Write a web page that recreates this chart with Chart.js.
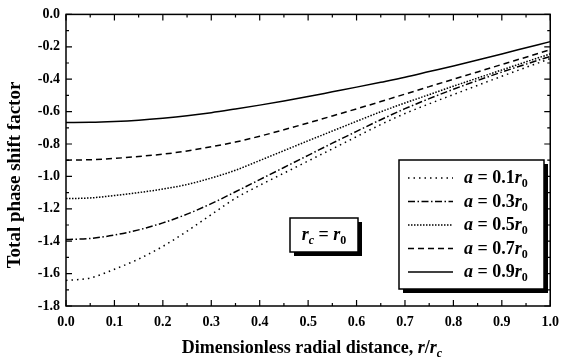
<!DOCTYPE html>
<html lang="en">
<head>
<meta charset="UTF-8">
<title>Total phase shift factor</title>
<style>
  body { margin: 0; background: #fff; }
  #wrap { width: 567px; height: 362px; }
</style>
</head>
<body>
<div id="wrap"><canvas id="myChart" width="567" height="362"></canvas></div>
<script src="https://cdn.jsdelivr.net/npm/chart.js@4.4.0/dist/chart.umd.min.js"></script>
<script>
// r / r_c
const radius = [0, 0.05, 0.1, 0.15, 0.2, 0.25, 0.3, 0.35, 0.4, 0.45, 0.5,
                0.55, 0.6, 0.65, 0.7, 0.75, 0.8, 0.85, 0.9, 0.95, 1.0];

// total phase shift factor, one list per a/r0
const shiftA01 = [-1.642, -1.627, -1.573, -1.510, -1.432, -1.338, -1.236, -1.135, -1.055, -0.980, -0.905,
                  -0.830, -0.755, -0.680, -0.612, -0.552, -0.495, -0.438, -0.382, -0.327, -0.273];
const shiftA03 = [-1.390, -1.383, -1.362, -1.330, -1.287, -1.233, -1.168, -1.095, -1.020, -0.945, -0.870,
                  -0.795, -0.722, -0.650, -0.582, -0.520, -0.462, -0.408, -0.356, -0.307, -0.259];
const shiftA05 = [-1.137, -1.133, -1.118, -1.100, -1.078, -1.050, -1.010, -0.962, -0.902, -0.841, -0.780,
                  -0.720, -0.660, -0.601, -0.547, -0.495, -0.443, -0.393, -0.343, -0.293, -0.244];
const shiftA07 = [-0.900, -0.897, -0.889, -0.877, -0.863, -0.843, -0.817, -0.788, -0.752, -0.712, -0.670,
                  -0.627, -0.583, -0.538, -0.492, -0.446, -0.400, -0.355, -0.309, -0.264, -0.218];
const shiftA09 = [-0.667, -0.666, -0.661, -0.653, -0.641, -0.626, -0.607, -0.584, -0.560, -0.534, -0.507,
                  -0.478, -0.449, -0.419, -0.388, -0.353, -0.318, -0.281, -0.244, -0.206, -0.168];

const aLabels = ['0.1', '0.3', '0.5', '0.7', '0.9'];
const serif = '"Liberation Serif", "DejaVu Serif", serif';

function pts(ys) {
    return radius.map((r, i) => ({ x: r, y: ys[i] }));
}

// draw a run of text pieces with their own fonts, left to right
function richText(ctx, parts, x, y, align) {
    let w = 0;
    parts.forEach(p => { ctx.font = p.font; w += ctx.measureText(p.t).width; });
    let cx = align === 'center' ? x - w / 2 : x;
    ctx.textAlign = 'left';
    ctx.textBaseline = 'alphabetic';
    parts.forEach(p => {
        ctx.font = p.font;
        ctx.fillText(p.t, cx, y + (p.dy || 0));
        cx += ctx.measureText(p.t).width;
    });
}

const decor = {
    id: 'decor',
    afterDraw(chart) {
        const ctx = chart.ctx, a = chart.chartArea;
        const x = chart.scales.x, y = chart.scales.y;
        ctx.save();
        ctx.strokeStyle = '#000';
        ctx.fillStyle = '#000';

        // frame + inward ticks
        ctx.lineWidth = 1.5;
        ctx.strokeRect(a.left, a.top, a.right - a.left, a.bottom - a.top);
        ctx.lineWidth = 1.2;
        ctx.beginPath();
        for (let i = 0; i <= 20; i++) {
            const px = x.getPixelForValue(i * 0.05);
            const len = i % 2 ? 3 : 6;
            ctx.moveTo(px, a.bottom); ctx.lineTo(px, a.bottom - len);
            ctx.moveTo(px, a.top); ctx.lineTo(px, a.top + len);
        }
        for (let i = 0; i <= 18; i++) {
            const py = y.getPixelForValue(-i * 0.1);
            const len = i % 2 ? 3 : 6;
            ctx.moveTo(a.left, py); ctx.lineTo(a.left + len, py);
            ctx.moveTo(a.right, py); ctx.lineTo(a.right - len, py);
        }
        ctx.stroke();

        // axis titles
        const big = 'bold 18px ' + serif, bigIt = 'italic bold 18px ' + serif;
        ctx.save();
        ctx.translate(20, 175);
        ctx.rotate(-Math.PI / 2);
        richText(ctx, [{ t: 'Total phase shift factor', font: 'bold 19px ' + serif }], 0, 0, 'center');
        ctx.restore();
        richText(ctx, [
            { t: 'Dimensionless radial distance, ', font: big },
            { t: 'r', font: bigIt },
            { t: '/', font: big },
            { t: 'r', font: bigIt },
            { t: 'c', font: 'italic bold 12px ' + serif, dy: 4 }
        ], 312, 353, 'center');

        // r_c = r_0 box
        ctx.fillRect(294, 222, 68, 34);
        ctx.fillStyle = '#fff';
        ctx.fillRect(290, 218, 68, 34);
        ctx.fillStyle = '#000';
        ctx.lineWidth = 1.5;
        ctx.strokeRect(290, 218, 68, 34);
        richText(ctx, [
            { t: 'r', font: bigIt },
            { t: 'c', font: 'italic bold 12px ' + serif, dy: 4 },
            { t: ' = ', font: big },
            { t: 'r', font: bigIt },
            { t: '0', font: 'bold 12px ' + serif, dy: 4 }
        ], 324, 240, 'center');

        // legend box
        ctx.fillRect(403, 164, 145, 129);
        ctx.fillStyle = '#fff';
        ctx.fillRect(399, 160, 145, 129);
        ctx.fillStyle = '#000';
        ctx.strokeRect(399, 160, 145, 129);
        chart.data.datasets.forEach((ds, i) => {
            const ly = 178 + i * 23.5;
            ctx.save();
            ctx.lineWidth = ds.borderWidth;
            ctx.setLineDash(ds.borderDash || []);
            ctx.beginPath();
            ctx.moveTo(408, ly); ctx.lineTo(453, ly);
            ctx.stroke();
            ctx.restore();
            richText(ctx, [
                { t: 'a', font: bigIt },
                { t: ' = ' + ds.label, font: big },
                { t: 'r', font: bigIt },
                { t: '0', font: 'bold 12px ' + serif, dy: 4 }
            ], 464, ly + 5, 'left');
        });
        ctx.restore();
    }
};

const dashes = [[1.5, 4], [7, 2.5, 1.5, 2.5], [1.5, 1.5], [6, 4], []];
const series = [shiftA01, shiftA03, shiftA05, shiftA07, shiftA09];

new Chart(document.getElementById('myChart'), {
    type: 'line',
    data: {
        datasets: series.map((s, i) => ({
            label: aLabels[i],
            data: pts(s),
            borderColor: '#000',
            borderWidth: 1.5,
            borderDash: dashes[i],
            pointRadius: 0,
            cubicInterpolationMode: 'monotone',
            fill: false
        }))
    },
    options: {
        responsive: false,
        animation: false,
        devicePixelRatio: 1,
        layout: { padding: { top: 9, right: 10, left: 0, bottom: 0 } },
        plugins: { legend: { display: false }, tooltip: { enabled: false } },
        scales: {
            x: {
                type: 'linear', min: 0, max: 1,
                afterFit(scale) { scale.height = 56; },
                grid: { display: false, drawTicks: false },
                border: { display: false },
                ticks: {
                    stepSize: 0.1, padding: 8, color: '#000',
                    font: { family: serif, size: 14, weight: 'bold' },
                    maxRotation: 0,
                    callback: v => v.toFixed(1)
                }
            },
            y: {
                type: 'linear', min: -1.8, max: 0,
                afterFit(scale) { scale.width = 66; },
                grid: { display: false, drawTicks: false },
                border: { display: false },
                ticks: {
                    stepSize: 0.2, padding: 6, color: '#000',
                    font: { family: serif, size: 14, weight: 'bold' },
                    callback: v => (Math.abs(v) < 1e-9 ? 0 : v).toFixed(1)
                }
            }
        }
    },
    plugins: [decor]
});
</script>
</body>
</html>
